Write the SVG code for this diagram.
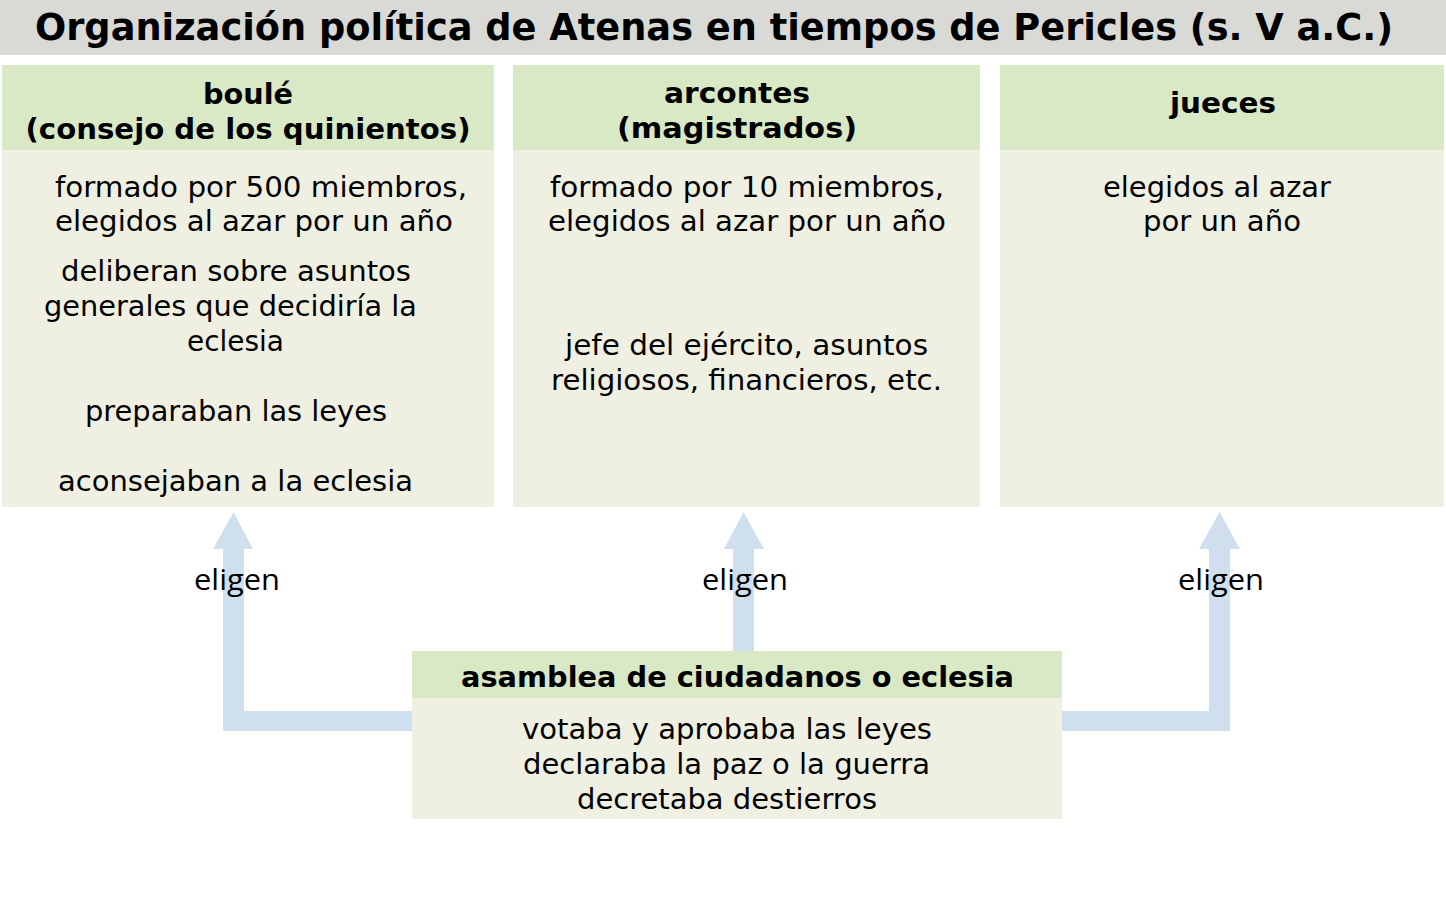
<svg xmlns="http://www.w3.org/2000/svg" width="1446" height="920" viewBox="0 0 1446 920">
<style>
.hd{fill:#d9e8c5}
.bd{fill:#f0f0e2}
.t{font-family:"DejaVu Sans","Verdana",sans-serif;fill:#000;text-anchor:middle}
.b{font-weight:bold;font-size:29px}
.r{font-size:28px}
.lab{font-family:"Open Sans","Noto Sans",sans-serif;font-size:29px;fill:#000;text-anchor:middle}
.arr{fill:#d0dfee}
</style>
<rect x="0" y="0" width="1446" height="920" fill="#ffffff"/>
<g id="title">
<rect x="0" y="0" width="1446" height="55" fill="#d9d9d6"/>
<text class="t" x="714" y="40" font-size="38" font-weight="bold" textLength="1358" lengthAdjust="spacingAndGlyphs">Organización política de Atenas en tiempos de Pericles (s. V a.C.)</text>
</g>
<g id="connectors">
<path class="arr" d="M412,711 L244,711 L244,549 L253,549 L233.5,512 L213,549 L223,549 L223,731 L412,731 Z"/>
<path class="arr" d="M1062,711 L1209,711 L1209,549 L1199,549 L1219.5,512 L1240,549 L1230,549 L1230,731 L1062,731 Z"/>
<path class="arr" d="M733,651 L733,549 L724,549 L743.5,512 L764,549 L754,549 L754,651 Z"/>
<text class="lab" x="237" y="590" textLength="86" lengthAdjust="spacingAndGlyphs">eligen</text>
<text class="lab" x="745" y="590" textLength="86" lengthAdjust="spacingAndGlyphs">eligen</text>
<text class="lab" x="1221" y="590" textLength="86" lengthAdjust="spacingAndGlyphs">eligen</text>
</g>
<g id="boule">
<rect class="hd" x="2" y="65" width="492" height="85"/>
<rect class="bd" x="2" y="150" width="492" height="357"/>
<text class="t b" x="248" y="104" textLength="90" lengthAdjust="spacingAndGlyphs">boulé</text>
<text class="t b" x="248" y="139" textLength="445" lengthAdjust="spacingAndGlyphs">(consejo de los quinientos)</text>
<text class="t r" x="261" y="197" textLength="412" lengthAdjust="spacingAndGlyphs">formado por 500 miembros,</text>
<text class="t r" x="254" y="231" textLength="398" lengthAdjust="spacingAndGlyphs">elegidos al azar por un año</text>
<text class="t r" x="236" y="281" textLength="350" lengthAdjust="spacingAndGlyphs">deliberan sobre asuntos</text>
<text class="t r" x="230.5" y="316" textLength="373" lengthAdjust="spacingAndGlyphs">generales que decidiría la</text>
<text class="t r" x="235.5" y="351" textLength="97" lengthAdjust="spacingAndGlyphs">eclesia</text>
<text class="t r" x="236" y="421" textLength="302" lengthAdjust="spacingAndGlyphs">preparaban las leyes</text>
<text class="t r" x="235.5" y="491" textLength="355" lengthAdjust="spacingAndGlyphs">aconsejaban a la eclesia</text>
</g>
<g id="arcontes">
<rect class="hd" x="513" y="65" width="467" height="85"/>
<rect class="bd" x="513" y="150" width="467" height="357"/>
<text class="t b" x="737" y="103" textLength="146" lengthAdjust="spacingAndGlyphs">arcontes</text>
<text class="t b" x="737" y="138" textLength="240" lengthAdjust="spacingAndGlyphs">(magistrados)</text>
<text class="t r" x="747" y="197" textLength="394" lengthAdjust="spacingAndGlyphs">formado por 10 miembros,</text>
<text class="t r" x="747" y="231" textLength="398" lengthAdjust="spacingAndGlyphs">elegidos al azar por un año</text>
<text class="t r" x="746.5" y="355" textLength="363" lengthAdjust="spacingAndGlyphs">jefe del ejército, asuntos</text>
<text class="t r" x="746.5" y="390" textLength="391" lengthAdjust="spacingAndGlyphs">religiosos, financieros, etc.</text>
</g>
<g id="jueces">
<rect class="hd" x="1000" y="65" width="444" height="85"/>
<rect class="bd" x="1000" y="150" width="444" height="357"/>
<text class="t b" x="1223" y="113" textLength="106" lengthAdjust="spacingAndGlyphs">jueces</text>
<text class="t r" x="1217" y="197" textLength="228" lengthAdjust="spacingAndGlyphs">elegidos al azar</text>
<text class="t r" x="1222" y="231" textLength="158" lengthAdjust="spacingAndGlyphs">por un año</text>
</g>
<g id="asamblea">
<rect class="hd" x="412" y="651" width="650" height="47"/>
<rect class="bd" x="412" y="698" width="650" height="121"/>
<text class="t b" x="737.5" y="687" textLength="553" lengthAdjust="spacingAndGlyphs">asamblea de ciudadanos o eclesia</text>
<text class="t r" x="727" y="739" textLength="410" lengthAdjust="spacingAndGlyphs">votaba y aprobaba las leyes</text>
<text class="t r" x="726.5" y="774" textLength="407" lengthAdjust="spacingAndGlyphs">declaraba la paz o la guerra</text>
<text class="t r" x="727" y="809" textLength="300" lengthAdjust="spacingAndGlyphs">decretaba destierros</text>
</g>
</svg>
